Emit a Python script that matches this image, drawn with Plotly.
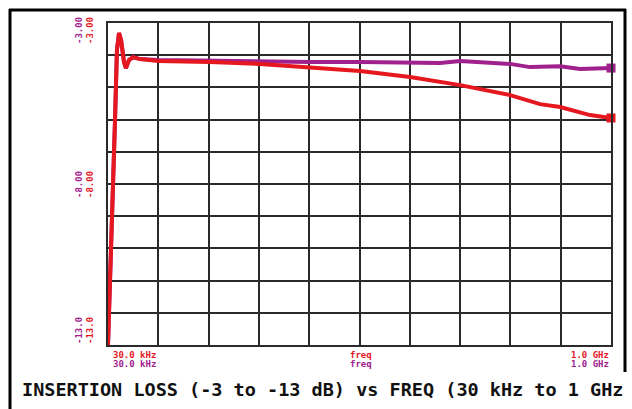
import math
import plotly.graph_objects as go

# ---- data ----
freq_red = [30.0e3, 32.6e3, 34.7e3, 36.1e3, 37.7e3, 39.3e3, 41.8e3, 43.5e3, 46.3e3, 50.4e3,
            58.2e3, 84.5e3, 248e3, 697e3, 1.97e6, 5.53e6, 15.6e6, 44e6, 124e6, 230e6,
            349e6, 648e6, 1.0e9]
loss_red = [-13.0, -9.43, -6.01, -3.84, -3.31, -3.53, -4.21, -4.40, -4.15, -4.06,
            -4.12, -4.18, -4.21, -4.27, -4.37, -4.49, -4.68, -4.93, -5.24, -5.52,
            -5.61, -5.86, -5.95]

freq_mag = [30.0e3, 32.6e3, 34.7e3, 36.1e3, 37.7e3, 39.3e3, 41.8e3, 43.5e3, 46.3e3, 50.4e3,
            58.2e3, 84.5e3, 248e3, 697e3, 1.97e6, 5.53e6, 15.6e6, 29e6, 44e6, 81e6,
            124e6, 187e6, 349e6, 526e6, 1.0e9]
loss_mag = [-13.0, -9.43, -6.01, -3.84, -3.31, -3.53, -4.21, -4.40, -4.15, -4.06,
            -4.12, -4.15, -4.18, -4.21, -4.21, -4.21, -4.21, -4.24, -4.18, -4.24,
            -4.27, -4.37, -4.34, -4.43, -4.40]

y_labels = ["-3.00", "-8.00", "-13.0"]
x_labels = ["30.0 kHz", "freq", "1.0 GHz"]
title_text = "INSERTION LOSS (-3 to -13 dB) vs FREQ (30 kHz to 1 GHz"

F_START, F_STOP = 30e3, 1e9
Y_TOP, Y_BOT = -3.0, -13.0
N_DIV = 10

RED = "#e5171f"
MAG = "#a0208e"

W, H = 632, 409
L, R, T, B = 108, 611, 23, 345


def px(x):
    return (x - L) / (R - L)


def py(y):
    return (B - y) / (B - T)


x_grid = [F_START * (F_STOP / F_START) ** (i / N_DIV) for i in range(N_DIV + 1)]

fig = go.Figure()
fig.add_trace(go.Scatter(x=freq_mag, y=loss_mag, mode="lines",
                         line=dict(color=MAG, width=4), showlegend=False))
fig.add_trace(go.Scatter(x=[freq_mag[-1]], y=[loss_mag[-1]], mode="markers",
                         marker=dict(color=MAG, size=9, symbol="square"),
                         cliponaxis=False, showlegend=False))
fig.add_trace(go.Scatter(x=freq_red, y=loss_red, mode="lines",
                         line=dict(color=RED, width=4), showlegend=False))
fig.add_trace(go.Scatter(x=[freq_red[-1]], y=[loss_red[-1]], mode="markers",
                         marker=dict(color=RED, size=9, symbol="square"),
                         cliponaxis=False, showlegend=False))
fig.add_trace(go.Scatter(x=[freq_red[0]], y=[loss_red[0]], mode="markers",
                         marker=dict(color=RED, size=6), cliponaxis=False, showlegend=False))

fig.update_xaxes(type="log", range=[math.log10(F_START), math.log10(F_STOP)],
                 tickvals=x_grid, showticklabels=False, ticks="",
                 showgrid=True, gridcolor="#2a2a2a", gridwidth=2,
                 showline=True, linecolor="#2a2a2a", linewidth=2, mirror=True,
                 zeroline=False, fixedrange=True)
fig.update_yaxes(range=[Y_BOT, Y_TOP], dtick=1, tick0=Y_BOT, showticklabels=False, ticks="",
                 showgrid=True, gridcolor="#2a2a2a", gridwidth=2,
                 showline=True, linecolor="#2a2a2a", linewidth=2, mirror=True,
                 zeroline=False, fixedrange=True)

small = dict(family="DejaVu Sans Mono", size=9)
ann = []
# y labels (vertical, purple + red copies)
for lab, yc in zip(y_labels, [31, 185, 331]):
    ann.append(dict(x=px(79), y=py(yc), xref="paper", yref="paper", text="<b>%s</b>" % lab,
                    xanchor="center", yanchor="middle",
                    textangle=-90, showarrow=False, font=dict(color=MAG, **small)))
    ann.append(dict(x=px(90), y=py(yc), xref="paper", yref="paper", text="<b>%s</b>" % lab,
                    xanchor="center", yanchor="middle",
                    textangle=-90, showarrow=False, font=dict(color=RED, **small)))
# x labels (two rows)
for lab, xc in zip(x_labels, [134, 361, 590]):
    ann.append(dict(x=px(xc), y=py(355), xref="paper", yref="paper", text="<b>%s</b>" % lab,
                    xanchor="center", yanchor="middle",
                    showarrow=False, font=dict(color=RED, **small)))
    ann.append(dict(x=px(xc), y=py(364), xref="paper", yref="paper", text="<b>%s</b>" % lab,
                    xanchor="center", yanchor="middle",
                    showarrow=False, font=dict(color=MAG, **small)))
# title
ann.append(dict(x=px(20), y=py(389), xref="paper", yref="paper", xanchor="left",
                yanchor="middle",
                text="<b>%s</b>" % title_text, showarrow=False,
                font=dict(family="DejaVu Sans Mono", size=18.5, color="#111111")))

shapes = [
    dict(type="line", xref="paper", yref="paper", x0=px(9), x1=px(626), y0=py(10), y1=py(10),
         line=dict(color="black", width=3)),
    dict(type="line", xref="paper", yref="paper", x0=px(10), x1=px(10), y0=py(9), y1=py(412),
         line=dict(color="black", width=3)),
    dict(type="line", xref="paper", yref="paper", x0=px(625), x1=px(625), y0=py(9), y1=py(372),
         line=dict(color="black", width=3)),
]

fig.update_layout(width=W, height=H, autosize=False,
                  margin=dict(l=L, r=W - R, t=T, b=H - B),
                  paper_bgcolor="white", plot_bgcolor="white",
                  annotations=ann, shapes=shapes, showlegend=False)

fig.write_html("out.html", config={"displayModeBar": False},
               post_script="document.body.style.margin='0';document.body.style.padding='0';")
